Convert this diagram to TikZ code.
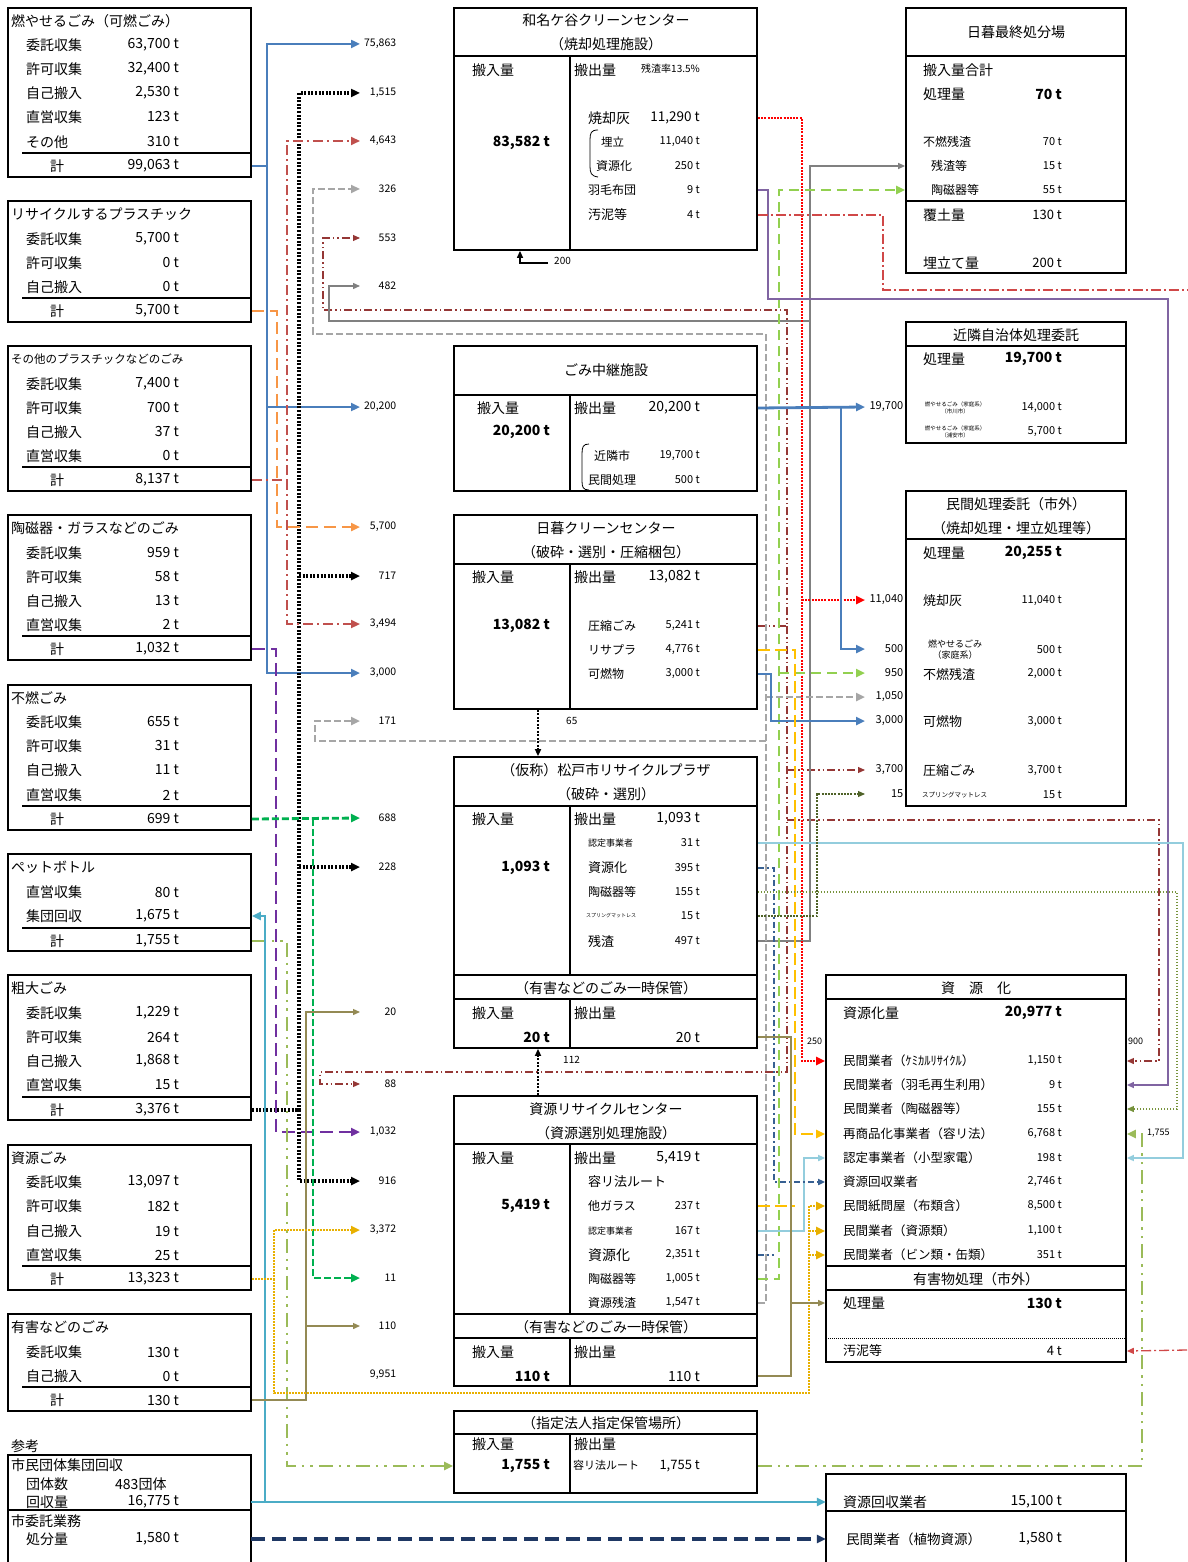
\documentclass[tikz,border=0pt]{standalone}
\usepackage{fontspec}
\setmainfont{Noto Sans CJK JP}
\usetikzlibrary{arrows.meta,fit}
\newcommand\fz[1]{\fontsize{#1}{#1}\selectfont}
\definecolor{cBlue}{HTML}{4A7EBB}
\definecolor{cRed}{HTML}{C0504D}
\definecolor{cOrange}{HTML}{F79646}
\definecolor{cPurple}{HTML}{7030A0}
\definecolor{cGreen}{HTML}{00B050}
\definecolor{cYG}{HTML}{9BBB59}
\definecolor{cLBlue}{HTML}{4BACC6}
\definecolor{cOlive}{HTML}{948A54}
\definecolor{cGold}{HTML}{E8B000}
\definecolor{cRedD}{HTML}{FF0000}
\definecolor{cGray}{HTML}{808080}
\definecolor{cGrayD}{HTML}{A6A6A6}
\definecolor{cLime}{HTML}{92D050}
\definecolor{cDRed}{HTML}{953735}
\definecolor{cPurT}{HTML}{8064A2}
\definecolor{cRS}{HTML}{D04848}
\definecolor{cGoldD}{HTML}{FFC000}
\definecolor{cLBT}{HTML}{93CDDD}
\definecolor{cDB}{HTML}{376092}
\definecolor{cOD}{HTML}{77933C}
\definecolor{cDG}{HTML}{4F6228}
\definecolor{cNavy}{HTML}{1F3864}
\tikzset{
 box/.style={draw, line width=1.8pt, inner sep=0pt},
 sp/.style={line width=1.5pt},
 tl/.style={anchor=west, inner sep=0pt, yshift=-1pt, font=\fz{14}},
 tr/.style={anchor=east, inner sep=0pt, yshift=-1pt, font=\fz{14}},
 tc/.style={anchor=center, inner sep=0pt, yshift=-1pt, font=\fz{14}},
 fl/.style={anchor=west, inner sep=0pt, text width=36pt, align=right, font=\fz{10.5}},
 fr/.style={anchor=west, inner sep=0pt, text width=38pt, align=right, font=\fz{11}},
 sm/.style={anchor=west, inner sep=0pt, font=\fz{10}},
 ah/.style={-{Triangle[length=9pt,width=8pt]}},
 ahs/.style={-{Triangle[length=7pt,width=6pt]}},
 lnB/.style={draw=cBlue, line width=2.8pt},
 lnK/.style={draw=black, line width=3.2pt, dash pattern=on 2pt off 1.6pt},
 lnK2/.style={draw=black, line width=2.2pt, dash pattern=on 2pt off 1.5pt},
 lnR/.style={draw=cRed, line width=2.2pt, dash pattern=on 10pt off 4pt on 2pt off 4pt},
 lnO/.style={draw=cOrange, line width=2.8pt, dash pattern=on 12pt off 6pt},
 lnP/.style={draw=cPurple, line width=2.2pt, dash pattern=on 13pt off 6pt},
 lnG/.style={draw=cGreen, line width=2.8pt, dash pattern=on 7pt off 3pt},
 lnY/.style={draw=cYG, line width=2.8pt, dash pattern=on 14pt off 6pt on 2.5pt off 6pt on 2.5pt off 6pt},
 lnL/.style={draw=cLBlue, line width=2.8pt},
 lnV/.style={draw=cOlive, line width=1.3pt},
 lnD/.style={draw=cGold, line width=2.8pt, dash pattern=on 2pt off 1pt},
 lnDR/.style={draw=cDRed, line width=1.1pt, dash pattern=on 8pt off 3pt on 1.5pt off 3pt on 1.5pt off 3pt},
 lnGS/.style={draw=cGray, line width=1.3pt},
 lnGD/.style={draw=cGrayD, line width=2.8pt, dash pattern=on 7pt off 3pt},
 lnRD/.style={draw=cRedD, line width=2.8pt, dash pattern=on 2pt off 1.2pt},
 lnLM/.style={draw=cLime, line width=2.8pt, dash pattern=on 10pt off 6pt},
 lnPU/.style={draw=cPurT, line width=1.3pt},
 lnRS/.style={draw=cRS, line width=1.3pt, dash pattern=on 10pt off 3pt on 2pt off 3pt},
 lnGO/.style={draw=cGoldD, line width=2.8pt, dash pattern=on 12pt off 5pt},
 lnLT/.style={draw=cLBT, line width=2pt},
 lnDB/.style={draw=cDB, line width=2pt, dash pattern=on 6pt off 3pt on 2pt off 3pt},
 lnOD/.style={draw=cOD, line width=1.1pt, dash pattern=on 1.5pt off 1.5pt},
 lnDG/.style={draw=cDG, line width=1.1pt, dash pattern=on 2pt off 1.2pt},
 lnN/.style={draw=cNavy, line width=3.2pt, dash pattern=on 14pt off 7pt},
}
% left rows
\newcommand\LR[4]{\node[tl] (#1a) at (26,#2) {#3}; \node[tr] (#1b) at (179,#2) {#4};}
\newcommand\LT[3]{\draw[sp] (22,#2-12) -- (251,#2-12); \node[tl] (#1a) at (50,#2) {計}; \node[tr] (#1b) at (179,#2) {#3};}
% generic row: name, xl, xr, y, label, lsize, value, vsize
\newcommand\TR[8]{\node[tl,font=\fz{#6}] (#1a) at (#2,#4) {#5}; \node[tr,font=\fz{#8}] (#1b) at (#3,#4) {#7};}
\begin{document}
\begin{tikzpicture}[x=1pt,y=-1pt]
\path[use as bounding box, fill=white] (0,0) rectangle (1187,1562);

% ================= LEFT COLUMN =================
\node[box, fit={(8,8) (251,177)}] (L1) {};
\node[tl] (L1h) at (11,20) {燃やせるごみ（可燃ごみ）};
\LR{L1r1}{44}{委託収集}{63,700 t}
\LR{L1r2}{68}{許可収集}{32,400 t}
\LR{L1r3}{92}{自己搬入}{2,530 t}
\LR{L1r4}{116}{直営収集}{123 t}
\LR{L1r5}{141}{その他}{310 t}
\LT{L1t}{165}{99,063 t}

\node[box, fit={(8,201) (251,322)}] (L2) {};
\node[tl] (L2h) at (11,213) {リサイクルするプラスチック};
\LR{L2r1}{238}{委託収集}{5,700 t}
\LR{L2r2}{262}{許可収集}{0 t}
\LR{L2r3}{286}{自己搬入}{0 t}
\LT{L2t}{310}{5,700 t}

\node[box, fit={(8,346) (251,491)}] (L3) {};
\node[tl, font=\fz{11.5}] (L3h) at (11,358) {その他のプラスチックなどのごみ};
\LR{L3r1}{383}{委託収集}{7,400 t}
\LR{L3r2}{407}{許可収集}{700 t}
\LR{L3r3}{431}{自己搬入}{37 t}
\LR{L3r4}{455}{直営収集}{0 t}
\LT{L3t}{479}{8,137 t}

\node[box, fit={(8,515) (251,660)}] (L4) {};
\node[tl] (L4h) at (11,527) {陶磁器・ガラスなどのごみ};
\LR{L4r1}{552}{委託収集}{959 t}
\LR{L4r2}{576}{許可収集}{58 t}
\LR{L4r3}{600}{自己搬入}{13 t}
\LR{L4r4}{624}{直営収集}{2 t}
\LT{L4t}{648}{1,032 t}

\node[box, fit={(8,685) (251,830)}] (L5) {};
\node[tl] (L5h) at (11,697) {不燃ごみ};
\LR{L5r1}{721}{委託収集}{655 t}
\LR{L5r2}{745}{許可収集}{31 t}
\LR{L5r3}{769}{自己搬入}{11 t}
\LR{L5r4}{794}{直営収集}{2 t}
\LT{L5t}{818}{699 t}

\node[box, fit={(8,854) (251,951)}] (L6) {};
\node[tl] (L6h) at (11,866) {ペットボトル};
\LR{L6r1}{891}{直営収集}{80 t}
\LR{L6r2}{915}{集団回収}{1,675 t}
\LT{L6t}{940}{1,755 t}

\node[box, fit={(8,975) (251,1120)}] (L7) {};
\node[tl] (L7h) at (11,987) {粗大ごみ};
\LR{L7r1}{1012}{委託収集}{1,229 t}
\LR{L7r2}{1036}{許可収集}{264 t}
\LR{L7r3}{1060}{自己搬入}{1,868 t}
\LR{L7r4}{1084}{直営収集}{15 t}
\LT{L7t}{1109}{3,376 t}

\node[box, fit={(8,1145) (251,1290)}] (L8) {};
\node[tl] (L8h) at (11,1157) {資源ごみ};
\LR{L8r1}{1181}{委託収集}{13,097 t}
\LR{L8r2}{1205}{許可収集}{182 t}
\LR{L8r3}{1230}{自己搬入}{19 t}
\LR{L8r4}{1254}{直営収集}{25 t}
\LT{L8t}{1278}{13,323 t}

\node[box, fit={(8,1314) (251,1411)}] (L9) {};
\node[tl] (L9h) at (11,1326) {有害などのごみ};
\LR{L9r1}{1351}{委託収集}{130 t}
\LR{L9r2}{1375}{自己搬入}{0 t}
\LT{L9t}{1399}{130 t}

\node[tl] (ref) at (11,1445) {参考};
\node[inner sep=0pt, fit={(8,1455) (251,1562)}] (L10) {};
\draw[line width=1.8pt] (8,1562) -- (8,1455) -- (251,1455) -- (251,1562);
\draw[sp] (8,1510) -- (251,1510);
\node[tl] (L10h) at (11,1464) {市民団体集団回収};
\node[tl] (L10r1a) at (26,1483) {団体数};
\node[tl] (L10r1b) at (115,1483) {483団体};
\node[tl] (L10r2a) at (26,1501) {回収量};
\node[tr] (L10r2b) at (179,1501) {16,775 t};
\node[tl] (L10h2) at (11,1520) {市委託業務};
\node[tl] (L10r3a) at (26,1538) {処分量};
\node[tr] (L10r3b) at (179,1538) {1,580 t};

% ================= MIDDLE COLUMN =================
% M1
\node[box, fit={(454,8) (757,250)}] (M1) {};
\draw[sp] (454,56) -- (757,56); \draw[sp] (570,56) -- (570,250);
\node[tc] (M1h1) at (606,19) {和名ケ谷クリーンセンター};
\node[tc] (M1h2) at (606,43) {（焼却処理施設）};
\node[tl] (M1i) at (472,69) {搬入量};
\node[tr, font=\fz{14}\bfseries] (M1iv) at (550,142) {83,582 t};
\node[tl] (M1o) at (574,69) {搬出量};
\node[sm] (M1p) at (641,69) {残渣率13.5\%};
\TR{M1r1}{588}{700}{117}{焼却灰}{14}{11,290 t}{13.5}
\TR{M1r2}{601}{700}{141}{埋立}{11.5}{11,040 t}{11}
\TR{M1r3}{596}{700}{165}{資源化}{12}{250 t}{11}
\TR{M1r4}{588}{700}{189}{羽毛布団}{12}{9 t}{11}
\TR{M1r5}{588}{700}{214}{汚泥等}{13}{4 t}{11}
\draw[line width=0.8pt] (598,130) .. controls (591,130) and (590,133) .. (590,140) -- (590,166) .. controls (590,173) and (591,176) .. (598,177);

% M2
\node[box, fit={(454,346) (757,491)}] (M2) {};
\draw[sp] (454,395) -- (757,395); \draw[sp] (570,395) -- (570,491);
\node[tc] (M2h) at (606,369) {ごみ中継施設};
\node[tl] (M2i) at (477,407) {搬入量};
\node[tr, font=\fz{14}\bfseries] (M2iv) at (550,431) {20,200 t};
\node[tl] (M2o) at (574,407) {搬出量};
\node[tr] (M2ov) at (700,407) {20,200 t};
\TR{M2r1}{594}{700}{455}{近隣市}{12}{19,700 t}{11}
\TR{M2r2}{588}{700}{479}{民間処理}{12}{500 t}{11}
\draw[line width=0.8pt] (589,444) .. controls (583,444) and (582,447) .. (582,454) -- (582,481) .. controls (582,487) and (583,490) .. (589,490);

% M3
\node[box, fit={(454,515) (757,709)}] (M3) {};
\draw[sp] (454,564) -- (757,564); \draw[sp] (570,564) -- (570,709);
\node[tc] (M3h1) at (606,527) {日暮クリーンセンター};
\node[tc] (M3h2) at (606,551) {（破砕・選別・圧縮梱包）};
\node[tl] (M3i) at (472,576) {搬入量};
\node[tr, font=\fz{14}\bfseries] (M3iv) at (550,625) {13,082 t};
\node[tl] (M3o) at (574,576) {搬出量};
\node[tr] (M3ov) at (700,576) {13,082 t};
\TR{M3r1}{588}{700}{625}{圧縮ごみ}{12}{5,241 t}{11}
\TR{M3r2}{588}{700}{649}{リサプラ}{12}{4,776 t}{11}
\TR{M3r3}{588}{700}{673}{可燃物}{12}{3,000 t}{11}

% M4
\node[box, fit={(454,757) (757,1048)}] (M4) {};
\draw[sp] (454,806) -- (757,806); \draw[sp] (454,975) -- (757,975); \draw[sp] (454,999) -- (757,999);
\draw[sp] (570,806) -- (570,975); \draw[sp] (570,999) -- (570,1048);
\node[tc] (M4h1) at (606,769) {（仮称）松戸市リサイクルプラザ};
\node[tc] (M4h2) at (606,793) {（破砕・選別）};
\node[tl] (M4i) at (472,818) {搬入量};
\node[tr, font=\fz{14}\bfseries] (M4iv) at (550,867) {1,093 t};
\node[tl] (M4o) at (574,818) {搬出量};
\node[tr] (M4ov) at (700,818) {1,093 t};
\TR{M4r1}{588}{700}{842}{認定事業者}{9}{31 t}{11}
\TR{M4r2}{588}{700}{867}{資源化}{13}{395 t}{11}
\TR{M4r3}{588}{700}{891}{陶磁器等}{12}{155 t}{11}
\TR{M4r4}{586}{700}{915}{スプリングマットレス}{5}{15 t}{11}
\TR{M4r5}{588}{700}{940}{残渣}{13}{497 t}{11}
\node[tc] (M4h3) at (606,987) {（有害などのごみ一時保管）};
\node[tl] (M4hi) at (472,1012) {搬入量};
\node[tr, font=\fz{14}\bfseries] (M4hv) at (550,1036) {20 t};
\node[tl] (M4ho) at (574,1012) {搬出量};
\node[tr] (M4hb) at (700,1036) {20 t};

% M5
\node[box, fit={(454,1096) (757,1386)}] (M5) {};
\draw[sp] (454,1144) -- (757,1144); \draw[sp] (454,1314) -- (757,1314); \draw[sp] (454,1338) -- (757,1338);
\draw[sp] (570,1144) -- (570,1314); \draw[sp] (570,1338) -- (570,1386);
\node[tc] (M5h1) at (606,1108) {資源リサイクルセンター};
\node[tc] (M5h2) at (606,1132) {（資源選別処理施設）};
\node[tl] (M5i) at (472,1157) {搬入量};
\node[tr, font=\fz{14}\bfseries] (M5iv) at (550,1205) {5,419 t};
\node[tl] (M5o) at (574,1157) {搬出量};
\node[tr] (M5ov) at (700,1157) {5,419 t};
\node[tl, font=\fz{13}] (M5y) at (588,1181) {容リ法ルート};
\TR{M5r1}{588}{700}{1205}{他ガラス}{12}{237 t}{11}
\TR{M5r2}{588}{700}{1230}{認定事業者}{9}{167 t}{11}
\TR{M5r3}{588}{700}{1254}{資源化}{14}{2,351 t}{11}
\TR{M5r5}{588}{700}{1278}{陶磁器等}{12}{1,005 t}{11}
\TR{M5r6}{588}{700}{1302}{資源残渣}{12}{1,547 t}{11}
\node[tc] (M5h3) at (606,1326) {（有害などのごみ一時保管）};
\node[tl] (M5hi) at (472,1351) {搬入量};
\node[tr, font=\fz{14}\bfseries] (M5hv) at (550,1375) {110 t};
\node[tl] (M5ho) at (574,1351) {搬出量};
\node[tr] (M5hb) at (700,1375) {110 t};

% M6
\node[box, fit={(454,1411) (757,1493)}] (M6) {};
\draw[sp] (454,1434) -- (757,1434); \draw[sp] (570,1434) -- (570,1493);
\node[tc] (M6h) at (606,1422) {（指定法人指定保管場所）};
\node[tl] (M6i) at (472,1443) {搬入量};
\node[tr, font=\fz{14}\bfseries] (M6iv) at (550,1465) {1,755 t};
\node[tl] (M6o) at (574,1443) {搬出量};
\node[tl, font=\fz{11}] (M6y) at (573,1464) {容リ法ルート};
\node[tr, font=\fz{13}] (M6ov) at (700,1465) {1,755 t};

% ================= RIGHT COLUMN =================
\node[box, fit={(906,8) (1126,273)}] (R1) {};
\draw[sp] (906,56) -- (1126,56); \draw[sp] (906,201) -- (1126,201);
\node[tc] (R1h) at (1016,31) {日暮最終処分場};
\node[tl] (R1s) at (923,69) {搬入量合計};
\node[tl] (R1pa) at (923,93) {処理量};
\node[tr, font=\fz{14}\bfseries] (R1pb) at (1062,93) {70 t};
\TR{R1r1}{923}{1062}{141}{不燃残渣}{12}{70 t}{11}
\TR{R1r2}{931}{1062}{165}{残渣等}{12}{15 t}{11}
\TR{R1r3}{931}{1062}{189}{陶磁器等}{12}{55 t}{11}
\TR{R1r4}{923}{1062}{214}{覆土量}{14}{130 t}{13}
\TR{R1r5}{923}{1062}{262}{埋立て量}{14}{200 t}{13}

\node[box, fit={(906,322) (1126,443)}] (R2) {};
\draw[sp] (906,346) -- (1126,346);
\node[tc] (R2h) at (1016,334) {近隣自治体処理委託};
\node[tl] (R2pa) at (923,358) {処理量};
\node[tr, font=\fz{14}\bfseries] (R2pb) at (1062,358) {19,700 t};
\node[tc, font=\fontsize{5.5}{7.5}\selectfont, align=center] (R2r1a) at (955,407) {燃やせるごみ（家庭系）\\（市川市）};
\node[tr, font=\fz{11}] (R2r1b) at (1062,407) {14,000 t};
\node[tc, font=\fontsize{5.5}{7.5}\selectfont, align=center] (R2r2a) at (955,431) {燃やせるごみ（家庭系）\\（浦安市）};
\node[tr, font=\fz{11}] (R2r2b) at (1062,431) {5,700 t};

\node[box, fit={(906,491) (1126,806)}] (R3) {};
\draw[sp] (906,539) -- (1126,539);
\node[tc] (R3h1) at (1016,503) {民間処理委託（市外）};
\node[tc] (R3h2) at (1016,527) {（焼却処理・埋立処理等）};
\node[tl] (R3pa) at (923,552) {処理量};
\node[tr, font=\fz{14}\bfseries] (R3pb) at (1062,552) {20,255 t};
\TR{R3r1}{923}{1062}{600}{焼却灰}{13}{11,040 t}{11}
\node[tc, font=\fontsize{9}{11}\selectfont, align=center] (R3r2a) at (955,649) {燃やせるごみ\\（家庭系）};
\node[tr, font=\fz{11}] (R3r2b) at (1062,649) {500 t};
\TR{R3r3}{923}{1062}{673}{不燃残渣}{13}{2,000 t}{11}
\TR{R3r4}{923}{1062}{721}{可燃物}{13}{3,000 t}{11}
\TR{R3r5}{923}{1062}{770}{圧縮ごみ}{13}{3,700 t}{11}
\TR{R3r6}{922}{1062}{794}{スプリングマットレス}{6.5}{15 t}{11}

\node[box, fit={(826,975) (1126,1362)}] (R4) {};
\draw[sp] (826,999) -- (1126,999); \draw[sp] (826,1266) -- (1126,1266); \draw[sp] (826,1290) -- (1126,1290);
\draw[line width=1pt, dash pattern=on 1pt off 1pt] (826,1338) -- (1126,1338);
\node[tc] (R4h) at (976,987) {資　源　化};
\node[tl] (R4pa) at (843,1012) {資源化量};
\node[tr, font=\fz{14}\bfseries] (R4pb) at (1062,1012) {20,977 t};
\TR{R4r1}{843}{1062}{1060}{民間業者（ｹﾐｶﾙﾘｻｲｸﾙ）}{12.5}{1,150 t}{11}
\TR{R4r2}{843}{1062}{1084}{民間業者（羽毛再生利用）}{12.5}{9 t}{11}
\TR{R4r3}{843}{1062}{1108}{民間業者（陶磁器等）}{12.5}{155 t}{11}
\TR{R4r4}{843}{1062}{1133}{再商品化事業者（容リ法）}{12.5}{6,768 t}{11}
\TR{R4r5}{843}{1062}{1157}{認定事業者（小型家電）}{12.5}{198 t}{11}
\TR{R4r6}{843}{1062}{1181}{資源回収業者}{12.5}{2,746 t}{11}
\TR{R4r7}{843}{1062}{1205}{民間紙問屋（布類含）}{12.5}{8,500 t}{11}
\TR{R4r8}{843}{1062}{1230}{民間業者（資源類）}{12.5}{1,100 t}{11}
\TR{R4r9}{843}{1062}{1254}{民間業者（ビン類・缶類）}{12.5}{351 t}{11}
\node[tc] (R4h2) at (976,1278) {有害物処理（市外）};
\node[tl] (R4h1a) at (843,1302) {処理量};
\node[tr, font=\fz{14}\bfseries] (R4h1b) at (1062,1302) {130 t};
\TR{R4s1}{843}{1062}{1350}{汚泥等}{13}{4 t}{13}

\node[inner sep=0pt, fit={(826,1474) (1126,1562)}] (R5) {};
\draw[line width=1.8pt] (826,1562) -- (826,1474) -- (1126,1474) -- (1126,1562);
\draw[sp] (826,1511) -- (1126,1511);
\node[tl] (R5r1a) at (843,1501) {資源回収業者};
\node[tr] (R5r1b) at (1062,1501) {15,100 t};
\node[tl, font=\fz{13.5}] (R5r2a) at (846,1538) {民間業者（植物資源）};
\node[tr] (R5r2b) at (1062,1538) {1,580 t};

% ================= FLOW LABELS =================
\node[fl] (f75863) at (360,44) {75,863};
\node[fl] (f1515) at (360,93) {1,515};
\node[fl] (f4643) at (360,141) {4,643};
\node[fl] (f326) at (360,189) {326};
\node[fl] (f553) at (360,238) {553};
\node[fl] (f482) at (360,286) {482};
\node[fl] (f20200) at (360,407) {20,200};
\node[fl] (f5700) at (360,527) {5,700};
\node[fl] (f717) at (360,576) {717};
\node[fl] (f3494) at (360,624) {3,494};
\node[fl] (f3000) at (360,673) {3,000};
\node[fl] (f171) at (360,721) {171};
\node[fl] (f688) at (360,818) {688};
\node[fl] (f228) at (360,867) {228};
\node[fl] (f20) at (360,1012) {20};
\node[fl] (f88) at (360,1084) {88};
\node[fl] (f1032) at (360,1132) {1,032};
\node[fl] (f916) at (360,1181) {916};
\node[fl] (f3372) at (360,1230) {3,372};
\node[fl] (f11) at (360,1278) {11};
\node[fl] (f110) at (360,1326) {110};
\node[fl] (f9951) at (360,1375) {9,951};

\node[fr] (g19700) at (865,407) {19,700};
\node[fr] (g11040) at (865,600) {11,040};
\node[fr] (g500) at (865,649) {500};
\node[fr] (g950) at (865,673) {950};
\node[fr] (g1050) at (865,697) {1,050};
\node[fr] (g3000) at (865,721) {3,000};
\node[fr] (g3700) at (865,770) {3,700};
\node[fr] (g15) at (865,794) {15};

\node[sm] (l200) at (554,261) {200};
\node[sm] (l65) at (566,721) {65};
\node[sm] (l112) at (563,1060) {112};
\node[sm, font=\fz{9}] (l250) at (807,1041) {250};
\node[sm, font=\fz{9}] (l900) at (1128,1041) {900};
\node[sm, font=\fz{9}] (l1755) at (1147,1133) {1,755};

% ================= CONNECTORS (left) =================
\coordinate (xB) at (267,0);
\draw[lnB,ah] (L1.east |- L1ta) -| (xB |- f75863) -- (f75863.west);
\draw[lnB,ah] (xB |- L1ta) |- (f20200.west);
\draw[lnB,ah] (xB |- L1ta) |- (f3000.west);

\coordinate (xK) at (299,0);
\draw[lnK,ah] (L7.east |- L7ta) -| (xK |- f1515) -- (f1515.west);
\draw[lnK,ah] (xK |- f717) -- (f717.west);
\draw[lnK,ah] (xK |- f228) -- (f228.west);
\draw[lnK,ah] (xK |- L7ta) |- (f916.west);

\coordinate (xR) at (287,0);
\draw[lnR,ah] (L3.east |- L3ta) -| (xR |- f4643) -- (f4643.west);
\draw[lnR,ah] (xR |- L3ta) |- (f3494.west);

\coordinate (xO) at (277,0);
\draw[lnO,ah] (L2.east |- L2ta) -| (xO |- f5700) -- (f5700.west);

\coordinate (xP) at (276,0);
\draw[lnP,ah] (L4.east |- L4ta) -| (xP |- f1032) -- (f1032.west);

\coordinate (xG) at (313,0);
\draw[lnG,ah] (L5.east |- L5ta) -- (f688.west);
\draw[lnG,ah] (xG |- L5ta) |- (f11.west);

\coordinate (xY) at (287,0);
\draw[lnY,ah] (L6.east |- L6ta) -| (xY |- M6iv) -- (M6.west |- M6iv);

\coordinate (xL) at (265,0);
\draw[lnL,ah] (L10.east |- L10r2a) -- (R5.west |- R5r1a);
\draw[lnL,ah] (xL |- L10r2a) |- (L6.east |- L6r2a);

\coordinate (xV) at (306,0);
\draw[lnV,ahs] (L9.east |- L9ta) -| (xV |- f20) -- (f20.west);
\draw[lnV,ahs] (xV |- L9ta) |- (f110.west);

\coordinate (xD) at (274,0);
\coordinate (xE) at (809,0);
\coordinate (yD) at (0,1393);
\draw[lnD,ah] (L8.east |- L8ta) -| (xD |- f3372) -- (f3372.west);
\draw[lnD,ah] (xD |- L8ta) -- (xD |- yD) -| (xE |- R4r7a) -- (R4.west |- R4r7a);
\draw[lnD,ah] (xE |- R4r8a) -- (R4.west |- R4r8a);
\draw[lnD,ah] (xE |- R4r9a) -- (R4.west |- R4r9a);

\draw[lnN,ah] (L10.east |- L10r3a) -- (R5.west |- R5r2a);

% ================= CONNECTORS (middle/right) =================
\coordinate (xDR) at (787,0); \coordinate (yDR1) at (0,310); \coordinate (xDR2) at (323,0);
\draw[lnDR,ahs] (M3.east |- M3r1a) -| (xDR |- yDR1) -- (xDR2 |- yDR1) |- (f553.west);
\coordinate (yDR2) at (0,1072); \coordinate (xDR3) at (320,0);
\draw[lnDR,ahs] (xDR |- M3r1a) -- (xDR |- yDR2) -- (xDR3 |- yDR2) |- (f88.west);
\draw[lnDR,ahs] (xDR |- g3700) -- (g3700.west);
\coordinate (pDR) at (1159,820);
\draw[lnDR,ahs] (xDR |- pDR) -- (pDR) |- (R4.east |- R4r1a);

\coordinate (xGS) at (810,0); \coordinate (yGS) at (0,321); \coordinate (xGS2) at (329,0);
\draw[lnGS,ahs] (M4.east |- M4r5a) -| (xGS |- R1r2a) -- (R1.west |- R1r2a);
\draw[lnGS,ahs] (xGS |- yGS) -- (xGS2 |- yGS) |- (f482.west);

\coordinate (xGD) at (766,0); \coordinate (yGD) at (0,334); \coordinate (xGD2) at (313,0);
\draw[lnGD,ah] (M5.east |- M5r6a) -| (xGD |- yGD) -- (xGD2 |- yGD) |- (f326.west);
\coordinate (yGD3) at (0,741); \coordinate (xGD3) at (315,0);
\draw[lnGD,ah] (xGD |- yGD3) -- (xGD3 |- yGD3) |- (f171.west);
\draw[lnGD,ah] (xGD |- g1050) -- (g1050.west);

\coordinate (xRD) at (802,0);
\draw[lnRD,ah] (M1.east |- M1r1a) -| (xRD |- R4r1a) -- (R4.west |- R4r1a);
\draw[lnRD,ah] (xRD |- g11040) -- (g11040.west);

\coordinate (xLM) at (779,0);
\draw[lnLM,ah] (M5.east |- M5r5a) -| (xLM |- R1r3a) -- (R1.west |- R1r3a);
\draw[lnLM,ah] (xLM |- g950) -- (g950.west);

\coordinate (xPU) at (768,0); \coordinate (yPU) at (0,299); \coordinate (xPU2) at (1168,0);
\draw[lnPU,ahs] (M1.east |- M1r4a) -| (xPU |- yPU) -- (xPU2 |- yPU) |- (R4.east |- R4r2a);

\coordinate (xRS) at (883,0); \coordinate (yRS) at (0,290);
\coordinate (eRS) at (1187,290); \coordinate (eRS2) at (1187,1350);
\draw[lnRS] (M1.east |- M1r5a) -| (xRS |- yRS) -- (eRS);
\draw[lnRS,ahs] (eRS2) -- (R4.east |- R4s1a);

\coordinate (xB2) at (771,0);
\draw[lnB,ah] (M3.east |- M3r3a) -| (xB2 |- g3000) -- (g3000.west);
\draw[lnB,ah] (M2.east |- M2ov) -- (g19700.west);
\coordinate (xB3) at (841,0);
\draw[lnB,ah] (xB3 |- M2ov) |- (g500.west);

\coordinate (xGO) at (795,0);
\draw[lnGO,ah] (M3.east |- M3r2a) -| (xGO |- R4r4a) -- (R4.west |- R4r4a);
\draw[lnGO] (M5.east |- M5r1a) -- (xGO |- M5r1a);

\coordinate (xLT) at (1183,0);
\draw[lnLT,ahs] (M4.east |- M4r1a) -| (xLT |- R4r5a) -- (R4.east |- R4r5a);
\coordinate (xLT2) at (804,0);
\draw[lnLT,ahs] (M5.east |- M5r2a) -| (xLT2 |- R4r5a) -- (R4.west |- R4r5a);

\coordinate (xDB) at (774,0);
\draw[lnDB,ahs] (M4.east |- M4r2a) -| (xDB |- R4r6a) -- (R4.west |- R4r6a);
\draw[lnDB] (M5.east |- M5r3a) -- (xDB |- M5r3a);

\coordinate (xOD) at (1177,0);
\draw[lnOD,ahs] (M4.east |- M4r3a) -| (xOD |- R4r3a) -- (R4.east |- R4r3a);

\coordinate (xDG) at (817,0);
\draw[lnDG,ahs] (M4.east |- M4r4a) -| (xDG |- g15) -- (g15.west);

\coordinate (xOV) at (791,0);
\draw[lnV,ahs] (M4.east |- M4hb) -| (xOV |- R4h1a) -- (R4.west |- R4h1a);
\draw[lnV] (M5.east |- M5hb) -| (xOV |- R4h1a);

\coordinate (xYG) at (1142,0);
\draw[lnY,ah] (M6.east |- M6ov) -| (xYG |- R4r4a) -- (R4.east |- R4r4a);

\coordinate (x538) at (538,0); \coordinate (x520) at (520,0); \coordinate (c200) at (548,263);
\draw[lnK2,ahs] (M3.south -| x538) -- (M4.north -| x538);
\draw[lnK2,ahs] (M5.north -| x538) -- (M4.south -| x538);
\draw[line width=1.2pt,ahs] (c200) -| (M1.south -| x520);
\end{tikzpicture}
\end{document}
